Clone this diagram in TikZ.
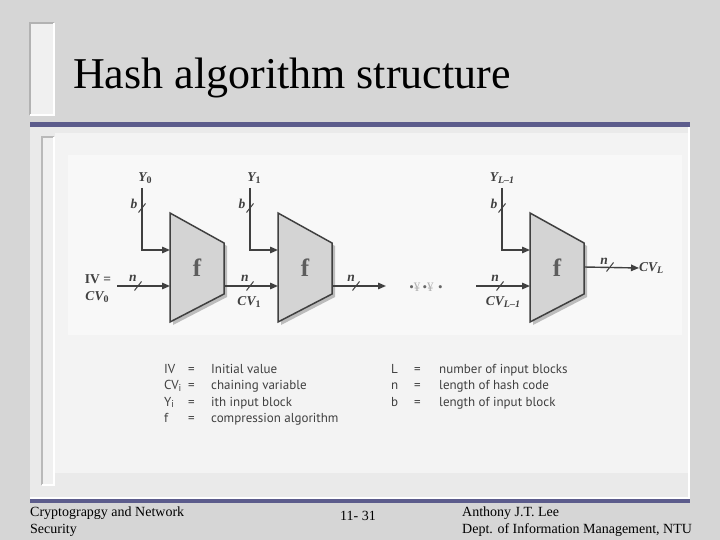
\documentclass[tikz,border=0pt]{standalone}
\usepackage{fontspec}
\setmainfont{Liberation Serif}
\newfontfamily\legendfont{PT Sans}
\usetikzlibrary{arrows.meta,positioning,calc}
\definecolor{MarbleGray}{RGB}{214,214,214}
\definecolor{PanelGray}{RGB}{234,234,234}
\definecolor{PanelLight}{RGB}{243,243,243}
\definecolor{FigWhite}{RGB}{248,248,248}
\definecolor{SlateBar}{RGB}{92,92,140}
\definecolor{WireDark}{RGB}{64,64,64}
\definecolor{BlockGray}{RGB}{212,212,212}
\definecolor{BlockShade}{RGB}{188,188,188}
\newcommand\idx[1]{\raisebox{-0.3ex}{\upshape\fontsize{10}{10}\selectfont#1}}

\begin{document}
\begin{tikzpicture}[x=1pt,y=-1pt,
    fblock/.style={draw=WireDark, fill=BlockGray, line width=1.5pt, line join=miter},
    fshade/.style={fill=BlockShade},
    flow/.style={-{Triangle[length=8pt,width=6.5pt]}, line width=1.4pt, WireDark},
    cut/.style={line width=1pt, WireDark},
    lbl/.style={font=\fontsize{13.5}{13.5}\selectfont\bfseries\itshape, text=WireDark, inner sep=0pt},
    flbl/.style={font=\fontsize{25}{25}\selectfont\bfseries, text=WireDark!85},
    legend/.style={font=\legendfont\fontsize{13}{13}\selectfont, anchor=base west, inner sep=0pt, text=black!75},
    foot/.style={font=\fontsize{14}{15}\selectfont, anchor=base west, inner sep=0pt}
  ]
  % slide background and frame
  \useasboundingbox (0,0) rectangle (720,540);
  \fill[MarbleGray] (0,0) rectangle (720,540);
  \fill[PanelGray!70] (30,23) rectangle (54,115);
  \draw[gray!60, line width=1.5pt] (30,115) -- (30,23) -- (54,23);
  \draw[white, line width=1.5pt] (54,23) -- (54,115) -- (30,115);
  \fill[SlateBar] (30,122) rectangle (690,127);
  \fill[PanelGray] (30,127) rectangle (690,498);
  \fill[PanelLight] (55,133) rectangle (690,473);
  \draw[white, line width=1.5pt] (689,127) -- (689,498) -- (30,498);
  \fill[SlateBar] (30,499) rectangle (690,503);
  \fill[PanelGray!70] (42,137) rectangle (54,485);
  \draw[gray!55, line width=1.3pt] (42,485) -- (42,137) -- (54,137);
  \draw[white, line width=1.3pt] (54,137) -- (54,485) -- (42,485);
  \fill[FigWhite] (68,155) rectangle (682,335);

  % title
  \node[anchor=base west, inner sep=0pt, font=\fontsize{44}{44}\selectfont] (title) at (73,89) {Hash algorithm structure};

  % compression blocks
  \foreach \bname/\bx in {fa/170, fb/278, fc/530} {
    \fill[fshade] (\bx+3,216) -- (\bx+57,246) -- (\bx+57,297) -- (\bx+3,325) -- cycle;
    \draw[fblock] (\bx,213) -- (\bx+54,243) -- (\bx+54,294) -- (\bx,322) -- cycle;
    \node[flbl] (\bname) at (\bx+27,268) {f};
    \coordinate (\bname-y) at (\bx,250);
    \coordinate (\bname-in) at (\bx,286);
    \coordinate (\bname-out) at (\bx+54,286);
    \coordinate (\bname-mid) at (\bx+54,267);
  }

  % block inputs Y
  \node[lbl] (ya) at (145,178) {Y\idx{\bfseries 0}};
  \node[lbl] (yb) at (254,178) {Y\idx{\bfseries 1}};
  \node[lbl] (yc) at (502,178) {Y\idx{\bfseries\itshape L\textendash 1}};
  \coordinate (ya-top) at (142,188);
  \coordinate (yb-top) at (250,188);
  \coordinate (yc-top) at (502,188);
  \draw[flow] (ya-top) |- (fa-y);
  \draw[flow] (yb-top) |- (fb-y);
  \draw[flow] (yc-top) |- (fc-y);
  \node[lbl] (ba) at (134,204) {b};
  \node[lbl] (bb) at (242,204) {b};
  \node[lbl] (bc) at (494,204) {b};

  % chaining
  \node[lbl, font=\fontsize{13.5}{13.5}\selectfont\bfseries] (iv) at (98,279) {IV =};
  \node[lbl] (cva) at (97,297) {CV\idx{\bfseries 0}};
  \coordinate (iv-start) at (117,286);
  \draw[flow] (iv-start) -- (fa-in);
  \draw[flow] (fa-out) -- (fb-in);
  \node[lbl] (cvb) at (249,302) {CV\idx{\bfseries 1}};
  \coordinate (fb-end) at (386,286);
  \draw[flow] (fb-out) -- (fb-end);
  \node[font=\fontsize{13}{13}\selectfont, text=WireDark!80] (dots) at (426,287)
    {\textbullet{\color{gray!60}¥}\,\textbullet{\color{gray!60}¥}\,\,\textbullet};
  \coordinate (fc-start) at (476,286);
  \draw[flow] (fc-start) -- (fc-in);
  \node[lbl] (cvc) at (503,302) {CV\idx{\bfseries\itshape L\textendash 1}};
  \node[lbl, anchor=west] (cvl) at (639,268) {CV\idx{\bfseries\itshape L}};
  \draw[flow] (fc-mid) -- (cvl.west);

  % width marks
  \foreach \sx/\sy in {138/286, 250/286, 356/286, 500/286, 610/267, 142/208, 250/208, 502/208}
    \draw[cut] (\sx-3.5,\sy+4.5) -- (\sx+3.5,\sy-4.5);
  \foreach \nname/\nx/\ny in {na/133/278, nb/245/278, nc/351/278, nd/495/278, ne/604/261}
    \node[lbl] (\nname) at (\nx,\ny) {n};

  % legend
  \foreach \key/\desc [count=\r] in {IV/Initial value, {CV\idx{i}}/chaining variable,
      {Y\idx{i}}/ith input block, f/compression algorithm} {
    \node[legend] (key\r) at (164,356.5+16.5*\r) {\key};
    \node[legend] (eq\r) at (188,356.5+16.5*\r) {=};
    \node[legend] (desc\r) at (211,356.5+16.5*\r) {\desc};
  }
  \foreach \key/\desc [count=\r] in {L/number of input blocks, n/length of hash code,
      b/length of input block} {
    \node[legend] (rkey\r) at (391,356.5+16.5*\r) {\key};
    \node[legend] (req\r) at (414,356.5+16.5*\r) {=};
    \node[legend] (rdesc\r) at (439,356.5+16.5*\r) {\desc};
  }

  % footer
  \node[foot] (course) at (30,516) {Cryptograpgy and Network};
  \node[foot] (course2) at (30,533) {Security};
  \node[foot] (page) at (340,520) {11- 31};
  \node[foot] (author) at (462,516) {Anthony J.T. Lee};
  \node[foot] (dept) at (462,533) {Dept. of Information Management, NTU};
\end{tikzpicture}
\end{document}
